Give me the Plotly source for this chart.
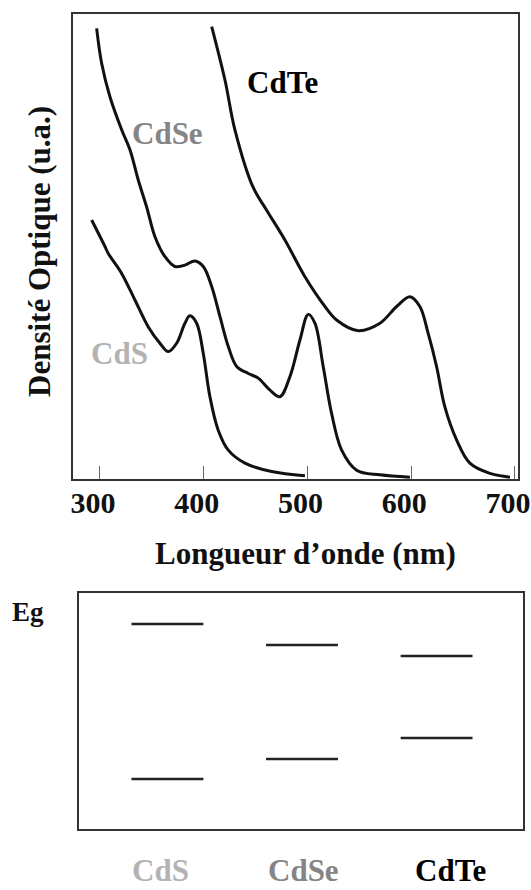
import plotly.graph_objects as go

# ---------------- Data ----------------
# Absorption spectra (wavelength in nm, optical density in arbitrary units)
wl_cds = [292.0, 304.8, 308.0, 320.9, 333.7, 346.6, 357.8, 365.8, 373.9, 381.9, 386.7, 393.2, 399.6,
          406.0, 414.0, 423.7, 439.8, 465.5, 497.6]
od_cds = [0.557, 0.500, 0.485, 0.442, 0.385, 0.327, 0.292, 0.274, 0.292, 0.335, 0.351, 0.335, 0.270,
          0.177, 0.105, 0.062, 0.034, 0.016, 0.007]

wl_cdse = [296.8, 301.6, 309.6, 320.9, 328.9, 336.9, 345.0, 353.0, 362.7, 372.3, 381.9, 391.6, 399.6,
           407.7, 415.7, 423.7, 431.8, 442.9, 452.6, 463.9, 473.5, 483.1, 492.8, 500.8, 507.2, 515.2,
           523.3, 533.0, 547.4, 569.9, 598.8]
od_cdse = [0.969, 0.894, 0.822, 0.751, 0.708, 0.643, 0.585, 0.521, 0.478, 0.457, 0.460, 0.469, 0.457,
           0.414, 0.349, 0.285, 0.242, 0.227, 0.217, 0.191, 0.177, 0.220, 0.299, 0.354, 0.335, 0.242,
           0.141, 0.062, 0.019, 0.009, 0.004]

wl_cdte = [407.7, 420.5, 430.1, 447.5, 460.7, 478.3, 497.6, 516.9, 528.1, 549.0, 569.9, 586.0, 598.8,
           608.4, 616.4, 624.5, 632.5, 643.8, 656.6, 675.9, 695.2]
od_cdte = [0.973, 0.858, 0.751, 0.628, 0.578, 0.514, 0.435, 0.371, 0.342, 0.319, 0.335, 0.371, 0.392,
           0.371, 0.313, 0.242, 0.155, 0.084, 0.034, 0.012, 0.004]

x_ticks = [300, 400, 500, 600, 700]

# Band-gap diagram (arbitrary energy units)
materials = ["CdS", "CdSe", "CdTe"]
cb_level = [0.869, 0.780, 0.733]
vb_level = [0.212, 0.297, 0.386]
material_colors = ["#b3b3b3", "#858585", "#000000"]

# ---------------- Figure ----------------
W, H = 531, 890
SERIF = "Liberation Serif"

fig = go.Figure()

line_style = dict(color="#111111", width=3, shape="spline", smoothing=1.0)
for wl, od in [(wl_cds, od_cds), (wl_cdse, od_cdse), (wl_cdte, od_cdte)]:
    fig.add_trace(go.Scatter(x=wl, y=od, mode="lines", line=line_style,
                             xaxis="x", yaxis="y", showlegend=False, hoverinfo="skip"))

half_w = 0.267
for i, m in enumerate(materials):
    for lvl in (cb_level[i], vb_level[i]):
        fig.add_trace(go.Scatter(x=[i - half_w, i + half_w], y=[lvl, lvl], mode="lines",
                                 line=dict(color="#222222", width=2.5),
                                 xaxis="x2", yaxis="y2", showlegend=False, hoverinfo="skip"))

frame = dict(showline=True, linecolor="#333333", linewidth=2, mirror=True,
             showgrid=False, zeroline=False, automargin=False)

fig.update_layout(
    width=W, height=H, autosize=False,
    margin=dict(l=0, r=0, t=0, b=0, pad=0, autoexpand=False),
    paper_bgcolor="white", plot_bgcolor="white",
    xaxis=dict(domain=[73 / W, 518 / W], anchor="y", range=[274, 703],
               tickvals=x_ticks, ticktext=[str(t) for t in x_ticks],
               ticks="inside", ticklen=13, tickwidth=1, tickcolor="#666666",
               tickfont=dict(family=SERIF, size=30, color="#111111", weight="bold"),
               ticklabelstandoff=-4, ticklabelshift=-7, ticklabeloverflow="allow", **frame),
    yaxis=dict(domain=[1 - 479 / H, 1 - 14 / H], anchor="x", range=[0, 1],
               showticklabels=False, ticks="", **frame),
    xaxis2=dict(domain=[79 / W, 523 / W], anchor="y2", range=[-0.657, 2.642],
                showticklabels=False, ticks="", **frame),
    yaxis2=dict(domain=[1 - 829 / H, 1 - 593 / H], anchor="x2", range=[0, 1],
                showticklabels=False, ticks="", **frame),
)

bold = dict(family=SERIF, size=31, weight="bold")
ann = []
# axis titles
ann.append(dict(text="Longueur d’onde (nm)", xref="paper", yref="paper",
                x=305 / W, y=1 - 553 / H, xanchor="center", yanchor="middle",
                showarrow=False, font=dict(bold, color="#111111")))
ann.append(dict(text="Densité Optique (u.a.)", xref="paper", yref="paper",
                x=39 / W, y=1 - 252 / H, xanchor="center", yanchor="middle", textangle=-90,
                showarrow=False, font=dict(bold, color="#111111")))
ann.append(dict(text="Eg", xref="paper", yref="paper",
                x=28 / W, y=1 - 612 / H, xanchor="center", yanchor="middle",
                showarrow=False, font=dict(bold, size=27, color="#111111")))
# curve labels
curve_label_pos = [(319.3, 0.270), (365.5, 0.742), (476.4, 0.852)]
for (lx, ly), m, c in zip(curve_label_pos, materials, material_colors):
    ann.append(dict(text=m, x=lx, y=ly, xref="x", yref="y", xanchor="center", yanchor="middle",
                    showarrow=False, font=dict(bold, color=c)))
# material labels under the band diagram
label_offsets = [-0.048, 0.011, 0.101]
for i, (m, c) in enumerate(zip(materials, material_colors)):
    ann.append(dict(text=m, x=i + label_offsets[i], y=0, xref="x2", yref="paper",
                    xanchor="center", yanchor="bottom", showarrow=False,
                    font=dict(bold, color=c)))
fig.update_layout(annotations=ann)

fig.write_html("out.html")
